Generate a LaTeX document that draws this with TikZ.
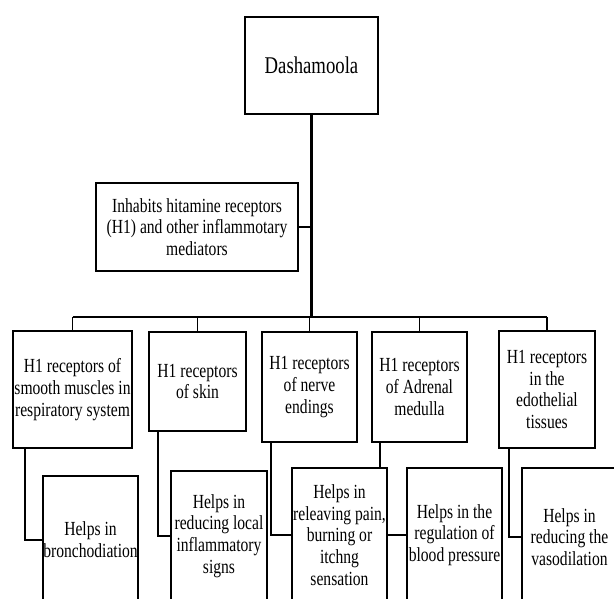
\documentclass[tikz,border=0pt]{standalone}
\usepackage{fontspec}
\setmainfont{Liberation Serif}[FakeStretch=0.78]
\usetikzlibrary{positioning,calc}
\tikzset{
    box/.style={draw, line width=1.6pt, align=center, inner sep=0pt,
        font=\fontsize{20}{21.7}\selectfont},
    trunk/.style={line width=2.6pt},
    link/.style={line width=1.6pt}
}

\begin{document}
\begin{tikzpicture}[x=1pt,y=-1pt]
    % fix the frame
    \useasboundingbox (0,0) rectangle (614,599);
    \clip (0,0) rectangle (614,599);

    % draw the top boxes
    \node[box, minimum width=133pt, minimum height=97pt, font=\fontsize{24}{26}\selectfont] (dash) at (311.5,65.5) {Dashamoola};
    \node[box, minimum width=202pt, minimum height=88pt] (inhib) at (197,227) {Inhabits hitamine receptors\\(H1) and other inflammotary\\mediators};

    % draw the receptor boxes
    \node[box, minimum width=119pt, minimum height=117pt] (rsmooth) at (72.5,389.5) {H1 receptors of\\smooth muscles in\\respiratory system};
    \node[box, minimum width=97pt, minimum height=99pt] (rskin) at (197.5,381.5) {H1 receptors\\of skin};
    \node[box, minimum width=95pt, minimum height=110pt] (rnerve) at (309.5,387) {H1 receptors\\of nerve\\endings};
    \node[box, minimum width=95pt, minimum height=110pt] (radrenal) at (419.5,387) {H1 receptors\\of Adrenal\\medulla};
    \node[box, minimum width=96pt, minimum height=117pt] (rendo) at (547,389.5) {H1 receptors\\in the\\edothelial\\tissues};

    % draw the effect boxes (cut at the bottom)
    \node[box, minimum width=95pt, minimum height=128pt] (hbronch) at (90.5,540) {Helps in\\bronchodiation};
    \node[box, minimum width=96pt, minimum height=130pt] (hinflam) at (219,536) {Helps in\\reducing local\\inflammatory\\signs};
    \node[box, minimum width=95pt, minimum height=134pt] (hpain) at (339.5,535) {Helps in\\releaving pain,\\burning or\\itchng\\sensation};
    \node[box, minimum width=95pt, minimum height=134pt] (hbp) at (454.5,535) {Helps in the\\regulation of\\blood pressure};
    \node[box, minimum width=95pt, minimum height=138pt] (hvaso) at (569.5,537) {Helps in\\reducing the\\vasodilation};

    % draw the trunk and the fork
    \coordinate (fork) at (311.5,317);
    \draw[trunk] (dash.south) -- (fork);
    \draw[trunk] (inhib.east) -- (inhib.east -| fork);
    \draw[trunk] (rsmooth.north |- fork) -- (rendo.north |- fork);
    \foreach \b in {rsmooth,rskin,rnerve,radrenal,rendo}
        \draw[link] (\b.north |- fork) -- (\b.north);

    % draw the links down to the effects
    \draw[link] ([xshift=13pt]rsmooth.south west) |- (hbronch.west);
    \draw[link] ([xshift=10pt]rskin.south west) |- (hinflam.west);
    \draw[link] ([xshift=10pt]rnerve.south west) |- (hpain.west);
    \coordinate (adr) at ([xshift=9pt]radrenal.south west);
    \draw[link] (adr) -- (adr |- hpain.north);
    \draw[link] (hpain.east) -- (hbp.west);
    \draw[link] ([xshift=11pt]rendo.south west) |- (hvaso.west);
\end{tikzpicture}
\end{document}
